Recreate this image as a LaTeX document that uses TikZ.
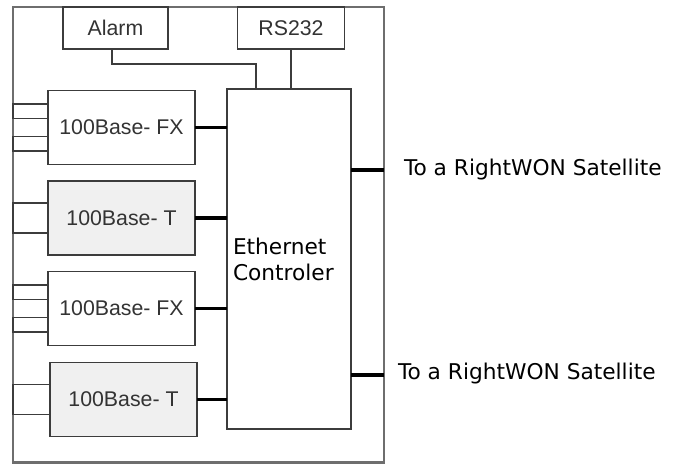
\documentclass[tikz,border=0pt]{standalone}
\usepackage{fontspec}
\setmainfont{Liberation Sans}
\newfontfamily\verdfont{DejaVu Sans}
\usetikzlibrary{positioning,calc}
\definecolor{linegray}{HTML}{3C3C3C}
\definecolor{framegray}{HTML}{6E6E6E}
\definecolor{portfill}{HTML}{F0F0F0}

\begin{document}
\begin{tikzpicture}[x=1pt,y=-1pt,on grid,
   every node/.style={inner sep=0pt,outer sep=0pt},
   card/.style={draw=linegray,line width=1.6pt,minimum width=147pt,minimum height=74pt,
     font=\fontsize{21.3}{26}\selectfont,text=black!80},
   tcard/.style={card,fill=portfill},
   smallbox/.style={card,minimum height=42pt},
   port/.style={draw=linegray,line width=1.6pt},
   wire/.style={draw=linegray,line width=1.6pt},
   link/.style={line width=3.5pt,black},
   sattext/.style={font=\verdfont\fontsize{21.7}{26}\selectfont,anchor=west}]
 \useasboundingbox (0,0) rectangle (677,464);
 \draw[framegray,line width=2.4pt] (13,7) rectangle (384,462.5);
 \coordinate (fl) at (13,0);
 \node[smallbox,minimum width=105pt] (alarm) at (115.5,28) {Alarm};
 \node[smallbox,minimum width=107pt] (rs) [right=175.5pt of alarm] {RS232};
 \node[draw=linegray,line width=1.6pt,minimum width=124pt,minimum height=340pt] (ctl) at (289,259) {};
 \node[sattext,align=left] (ctllbl) at ([xshift=6pt]ctl.west) {Ethernet\\Controler};
 \node[card] (fx1) at (121.5,127.5) {100Base- FX};
 \node[tcard] (t1) [below=90.5pt of fx1] {100Base- T};
 \node[card] (fx2) [below=90.5pt of t1] {100Base- FX};
 \node[tcard] (t2) [below right=91pt and 2pt of fx2] {100Base- T};
 \foreach \c in {fx1,fx2} {
   \draw[port] ($(\c.west)+(0,-23.5)$) rectangle ($(\c.west -| fl)+(0,-9)$);
   \draw[port] ($(\c.west)+(0,9)$) rectangle ($(\c.west -| fl)+(0,23.5)$);
 }
 \foreach \c in {t1,t2}
   \draw[port] ($(\c.west)+(0,-15)$) rectangle ($(\c.west -| fl)+(0,15)$);
 \foreach \c in {fx1,t1,fx2,t2}
   \draw[link] (\c.east) -- (\c.east -| ctl.west);
 \draw[wire] ([xshift=-3.5pt]alarm.south) -- ++(0,15) -| ([xshift=-33pt]ctl.north);
 \draw[wire] (rs.south) -- (rs.south |- ctl.north);
 \coordinate (sat1) at (384,170);
 \coordinate (sat2) at (384,375);
 \draw[link] (ctl.east |- sat1) -- (sat1);
 \draw[link] (ctl.east |- sat2) -- (sat2);
 \node[sattext] (satlbl1) at (404,170) {To a RightWON Satellite};
 \node[sattext] (satlbl2) at (398,374) {To a RightWON Satellite};
\end{tikzpicture}
\end{document}
